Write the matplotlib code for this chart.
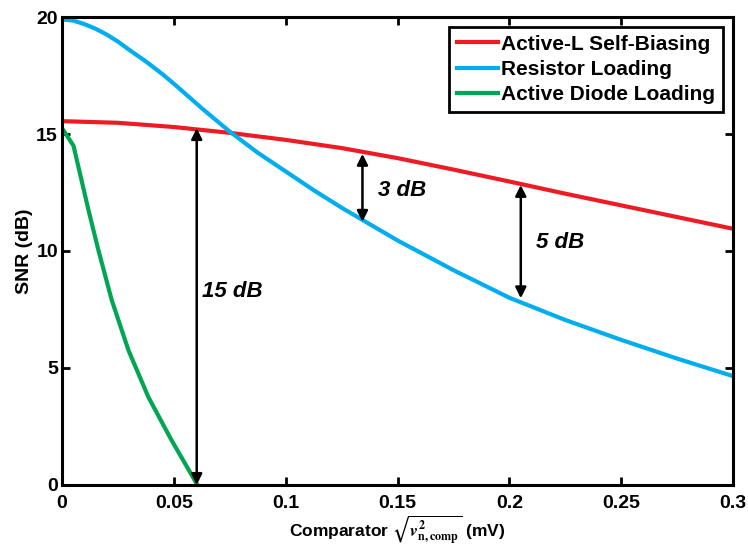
"""SNR versus comparator noise for three loading schemes."""

import matplotlib
matplotlib.use("Agg")
import matplotlib.pyplot as plt

plt.rcParams["font.family"] = ["Liberation Sans", "DejaVu Sans"]
plt.rcParams["font.weight"] = "bold"
plt.rcParams["mathtext.fontset"] = "stix"

# comparator noise (mV) and SNR (dB)
x_red = [0, 0.025, 0.05, 0.075, 0.1, 0.125, 0.15, 0.175, 0.2, 0.225, 0.25, 0.275, 0.3]
snr_red = [15.55, 15.48, 15.3, 15.05, 14.75, 14.4, 13.97, 13.48, 12.97, 12.45, 11.95, 11.45, 10.95]

x_blue = [0, 0.005, 0.01, 0.015, 0.02, 0.025, 0.03, 0.0375, 0.045, 0.05, 0.0625,
          0.075, 0.0875, 0.1, 0.1125, 0.125, 0.1375, 0.15, 0.175, 0.2, 0.225,
          0.25, 0.275, 0.3]
snr_blue = [19.9, 19.85, 19.7, 19.5, 19.25, 18.95, 18.6, 18.1, 17.55, 17.15, 16.1,
            15.1, 14.2, 13.4, 12.6, 11.85, 11.15, 10.45, 9.18, 8.0, 7.05,
            6.2, 5.4, 4.65]

x_green = [0, 0.0051, 0.0118, 0.0162, 0.0222, 0.0297, 0.0386, 0.049, 0.0605]
snr_green = [15.25, 14.5, 11.75, 10.05, 7.9, 5.75, 3.75, 1.9, 0.0]

# double arrows: x, low, high, label, label position
arrow_x = [0.0602, 0.1343, 0.2051]
arrow_lo = [0.0, 11.25, 7.98]
arrow_hi = [15.25, 14.15, 12.82]
arrow_labels = ["15 dB", "3 dB", "5 dB"]
label_x = [0.076, 0.152, 0.2225]
label_y = [8.25, 12.6, 10.35]

RED = "#ED1C24"
BLUE = "#00AEEF"
GREEN = "#00A651"


def main():
    fig = plt.figure(figsize=(7.48, 5.51), dpi=100)
    ax = fig.add_axes([0.083, 0.12, 0.897, 0.849])

    ax.plot(x_red, snr_red, color=RED, lw=3, label="Active-L Self-Biasing")
    ax.plot(x_blue, snr_blue, color=BLUE, lw=3, label="Resistor Loading")
    ax.plot(x_green, snr_green, color=GREEN, lw=3, label="Active Diode Loading")

    for xa, lo, hi in zip(arrow_x, arrow_lo, arrow_hi):
        ax.annotate("", xy=(xa, lo), xytext=(xa, hi),
                    arrowprops=dict(arrowstyle="<|-|>", color="black", lw=1.8,
                                    mutation_scale=16, shrinkA=0, shrinkB=0))
    for txt, lx, ly in zip(arrow_labels, label_x, label_y):
        ax.text(lx, ly, txt, fontsize=16, fontweight="bold", style="italic",
                ha="center", va="center")

    ax.set_xlim(0, 0.3)
    ax.set_ylim(0, 20)
    ax.set_xticks([0, 0.05, 0.1, 0.15, 0.2, 0.25, 0.3])
    ax.set_xticklabels(["0", "0.05", "0.1", "0.15", "0.2", "0.25", "0.3"])
    ax.set_yticks([0, 5, 10, 15, 20])
    ax.tick_params(direction="in", top=True, right=True, width=2, length=6,
                   labelsize=14)
    ax.tick_params(axis="x", pad=7)
    ax.tick_params(axis="y", pad=3)
    for sp in ax.spines.values():
        sp.set_linewidth(2.2)

    ax.set_ylabel("SNR (dB)", fontsize=14, fontweight="bold", labelpad=2)
    ax.set_xlabel(r"Comparator $\sqrt{v^2_{\rm n,comp}}$ (mV)", fontsize=12.5,
                  fontweight="bold", labelpad=1)

    leg = ax.legend(loc="upper right", fontsize=15, handlelength=2.0,
                    handletextpad=0.15, borderpad=0.35, labelspacing=0.3,
                    fancybox=False, framealpha=1, borderaxespad=0.5)
    leg.get_frame().set_edgecolor("black")
    leg.get_frame().set_linewidth(2)
    for t in leg.get_texts():
        t.set_fontweight("bold")

    fig.savefig("out.png", dpi=100)


if __name__ == "__main__":
    main()
